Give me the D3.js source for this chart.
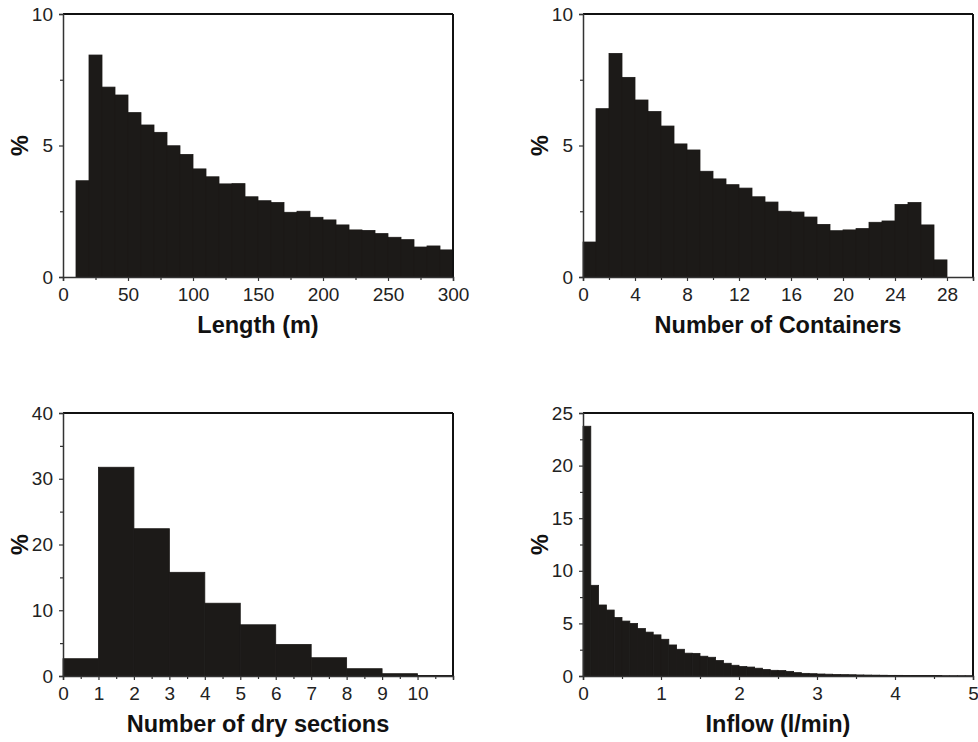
<!DOCTYPE html>
<html>
<head>
<meta charset="utf-8">
<script src="https://cdn.jsdelivr.net/npm/d3@7/dist/d3.min.js"></script>
<style>
  html, body { margin: 0; padding: 0; background: #fff; }
  svg { display: block; }
  .tick text { font-family: "Liberation Sans", Arial, sans-serif; font-size: 19px; fill: #222; }
  .title { font-family: "Liberation Sans", Arial, sans-serif; font-size: 23.5px; font-weight: bold; fill: #111; }
</style>
</head>
<body>
<svg id="chart" width="978" height="742"></svg>
<script>
// ---- Data (percent per bin) ----
// Length (m): bins of 10 m from 0 to 300
const lengthBinWidth = 10;
const lengthPct = [0, 3.66, 8.44, 7.22, 6.92, 6.25, 5.78, 5.50, 4.99, 4.66,
  4.11, 3.81, 3.54, 3.55, 3.05, 2.90, 2.83, 2.46, 2.50, 2.27,
  2.17, 1.98, 1.79, 1.77, 1.65, 1.51, 1.42, 1.14, 1.18, 1.03];
const lengthTicks = [0, 50, 100, 150, 200, 250, 300];
const lengthMinor = [25, 75, 125, 175, 225, 275];

// Number of containers: bins of 1 from 0 to 28
const contBinWidth = 1;
const contPct = [1.33, 6.40, 8.50, 7.59, 6.73, 6.29, 5.74, 5.06, 4.83, 4.02,
  3.73, 3.51, 3.38, 3.05, 2.85, 2.50, 2.47, 2.28, 2.00, 1.76,
  1.79, 1.84, 2.08, 2.13, 2.76, 2.83, 1.98, 0.65];
const contTicks = [0, 4, 8, 12, 16, 20, 24, 28];
const contMinor = [2, 6, 10, 14, 18, 22, 26, 30];

// Number of dry sections: bins of 1 from 0 to 11
const dryBinWidth = 1;
const dryPct = [2.63, 31.75, 22.4, 15.77, 11.07, 7.79, 4.80, 2.78, 1.11, 0.35, 0.08];
const dryTicks = [0, 1, 2, 3, 4, 5, 6, 7, 8, 9, 10];
const dryMinor = [0.5, 1.5, 2.5, 3.5, 4.5, 5.5, 6.5, 7.5, 8.5, 9.5, 10.5, 11];

// Inflow (l/min): bins of 0.1 from 0 to 5
const inflowBinWidth = 0.1;
const inflowPct = [23.74, 8.62, 6.75, 6.27, 5.56, 5.22, 5.00, 4.51, 4.17, 3.91,
  3.49, 2.95, 2.54, 2.17, 2.15, 1.88, 1.78, 1.47, 1.21, 1.02,
  0.90, 0.85, 0.74, 0.62, 0.54, 0.52, 0.44, 0.32, 0.25, 0.22,
  0.19, 0.17, 0.15, 0.13, 0.12, 0.10, 0.09, 0.08, 0.07, 0.06,
  0.06, 0.05, 0.05, 0.04, 0.04, 0.04, 0.03, 0.03, 0.03, 0.03];
const inflowTicks = [0, 1, 2, 3, 4, 5];
const inflowMinor = [0.5, 1.5, 2.5, 3.5, 4.5];

const pctTicks10 = [0, 5, 10];
const pctMinor10 = [2.5, 7.5];
const pctTicks40 = [0, 10, 20, 30, 40];
const pctMinor40 = [5, 15, 25, 35];
const pctTicks25 = [0, 5, 10, 15, 20, 25];
const pctMinor25 = [2.5, 7.5, 12.5, 17.5, 22.5];

// ---- Panels ----
const panels = [
  { x0: 63, y0: 14, xMax: 300, yMax: 10, bw: lengthBinWidth, vals: lengthPct,
    xt: lengthTicks, xm: lengthMinor, yt: pctTicks10, ym: pctMinor10, title: "Length (m)" },
  { x0: 583, y0: 14, xMax: 30, yMax: 10, bw: contBinWidth, vals: contPct,
    xt: contTicks, xm: contMinor, yt: pctTicks10, ym: pctMinor10, title: "Number of Containers" },
  { x0: 63, y0: 413, xMax: 11, yMax: 40, bw: dryBinWidth, vals: dryPct,
    xt: dryTicks, xm: dryMinor, yt: pctTicks40, ym: pctMinor40, title: "Number of dry sections" },
  { x0: 583, y0: 413, xMax: 5, yMax: 25, bw: inflowBinWidth, vals: inflowPct,
    xt: inflowTicks, xm: inflowMinor, yt: pctTicks25, ym: pctMinor25, title: "Inflow (l/min)" }
];

const W = 390, H = 263;
const svg = d3.select("#chart");
const barColor = "#1c1a18";

panels.forEach(p => {
  const g = svg.append("g").attr("transform", `translate(${p.x0},${p.y0})`);
  const x = d3.scaleLinear().domain([0, p.xMax]).range([0, W]);
  const y = d3.scaleLinear().domain([0, p.yMax]).range([H, 0]);

  const bins = p.vals.map((v, i) => ({ a: i * p.bw, b: (i + 1) * p.bw, v }));
  g.selectAll("rect.bar").data(bins.filter(d => d.v > 0)).enter().append("rect")
    .attr("class", "bar")
    .attr("x", d => x(d.a))
    .attr("width", d => x(d.b) - x(d.a))
    .attr("y", d => y(d.v))
    .attr("height", d => H - y(d.v))
    .attr("fill", barColor)
    .attr("stroke", barColor)
    .attr("stroke-width", 0.8);

  // frame top/right
  g.append("line").attr("x1", 0).attr("x2", W).attr("y1", 0).attr("y2", 0)
    .attr("stroke", "#111").attr("stroke-width", 2);
  g.append("line").attr("x1", W).attr("x2", W).attr("y1", 0).attr("y2", H)
    .attr("stroke", "#111").attr("stroke-width", 2);

  // x axis
  const xa = g.append("g").attr("transform", `translate(0,${H})`)
    .call(d3.axisBottom(x).tickValues(p.xt).tickSize(4).tickPadding(7).tickFormat(d3.format("d")));
  xa.select(".domain").attr("stroke", "#333").attr("stroke-width", 1.5);
  xa.selectAll(".tick line").attr("stroke", "#333").attr("stroke-width", 1.2);
  const xm = g.append("g").attr("transform", `translate(0,${H})`)
    .call(d3.axisBottom(x).tickValues(p.xm).tickSize(3).tickFormat(""));
  xm.select(".domain").remove();
  xm.selectAll(".tick line").attr("stroke", "#333").attr("stroke-width", 1.2);

  // y axis
  const ya = g.append("g")
    .call(d3.axisLeft(y).tickValues(p.yt).tickSize(4).tickPadding(6).tickFormat(d3.format("d")));
  ya.select(".domain").attr("stroke", "#333").attr("stroke-width", 1.5);
  ya.selectAll(".tick line").attr("stroke", "#333").attr("stroke-width", 1.2);
  const ym = g.append("g")
    .call(d3.axisLeft(y).tickValues(p.ym).tickSize(3).tickFormat(""));
  ym.select(".domain").remove();
  ym.selectAll(".tick line").attr("stroke", "#333").attr("stroke-width", 1.2);

  // titles
  g.append("text").attr("class", "title")
    .attr("x", W / 2).attr("y", H + 56).attr("text-anchor", "middle").text(p.title);
  g.append("text").attr("class", "title")
    .attr("transform", `translate(-35,${H / 2}) rotate(-90)`)
    .attr("text-anchor", "middle").text("%");
});
</script>
</body>
</html>
